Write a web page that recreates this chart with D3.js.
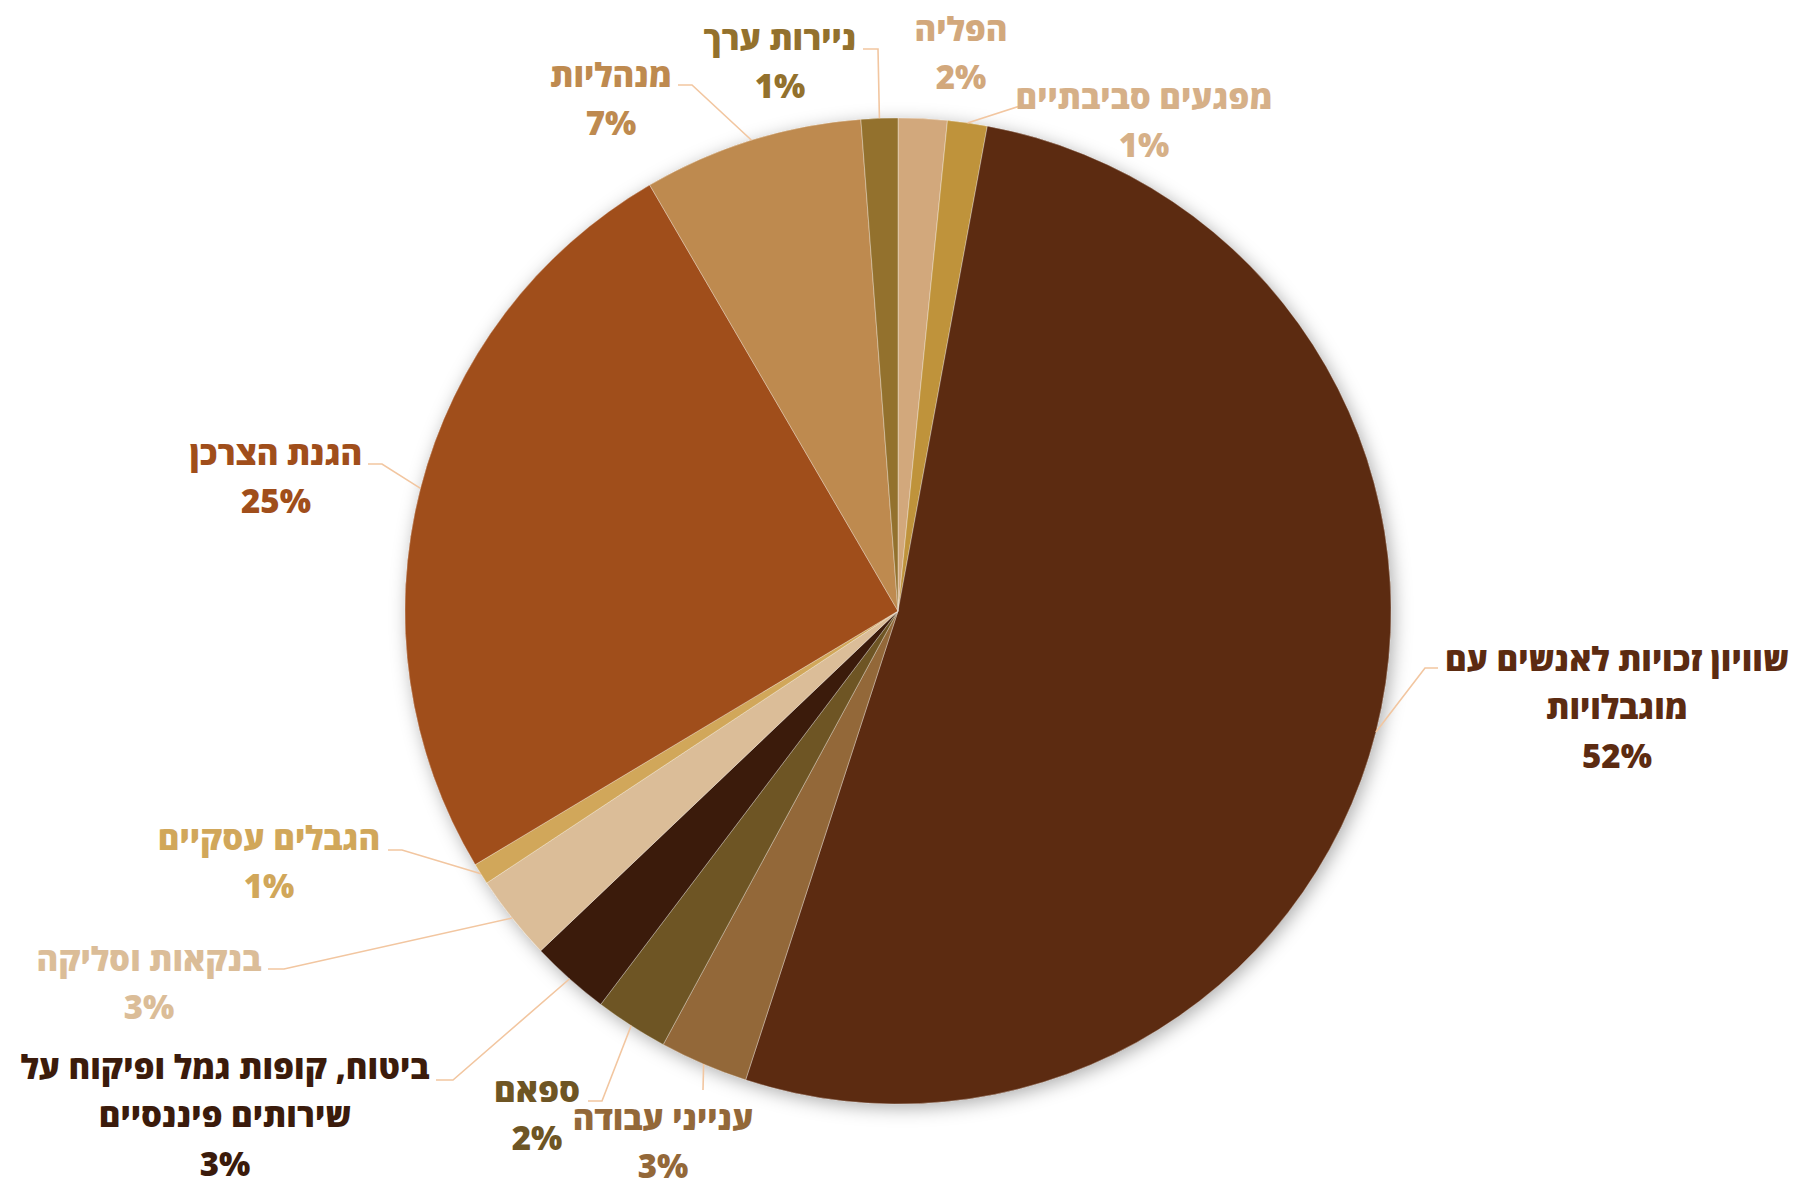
<!DOCTYPE html>
<html lang="he">
<head>
<meta charset="utf-8">
<script src="https://cdn.jsdelivr.net/npm/d3@7/dist/d3.min.js"></script>
<style>
  html, body { margin: 0; padding: 0; background: #ffffff; }
  svg { display: block; }
  text { font-family: "Open Sans", "Liberation Sans", "DejaVu Sans", sans-serif; font-weight: 800; }
</style>
</head>
<body>
<svg id="chart" width="1798" height="1188"></svg>
<script>
// ---- Data (clockwise from 12 o'clock) ----
const categories = [
  "הפליה",
  "מפגעים סביבתיים",
  "שוויון זכויות לאנשים עם מוגבלויות",
  "ענייני עבודה",
  "ספאם",
  "ביטוח, קופות גמל ופיקוח על שירותים פיננסיים",
  "בנקאות וסליקה",
  "הגבלים עסקיים",
  "הגנת הצרכן",
  "מנהליות",
  "ניירות ערך"
];
const values = [1.6, 1.3, 52.1, 2.9, 2.4, 2.6, 2.8, 0.7, 25.2, 7.2, 1.2];

// label line breaks
const labelLines = [
  ["הפליה"],
  ["מפגעים סביבתיים"],
  ["שוויון זכויות לאנשים עם", "מוגבלויות"],
  ["ענייני עבודה"],
  ["ספאם"],
  ["ביטוח, קופות גמל ופיקוח על", "שירותים פיננסיים"],
  ["בנקאות וסליקה"],
  ["הגבלים עסקיים"],
  ["הגנת הצרכן"],
  ["מנהליות"],
  ["ניירות ערך"]
];

// ---- Styles ----
const sliceColors = ["#d2a87c", "#bf933b", "#5c2b11", "#936839", "#6e5524", "#3b1b0b",
                     "#dbbd98", "#d1a75a", "#a04e1b", "#be8a4f", "#93712d"];
const textColors  = ["#d2a87c", "#d6b088", "#5c2b11", "#936839", "#6e5524", "#3b1b0b",
                     "#dbbd98", "#d1a75a", "#a04e1b", "#be8a4f", "#93712d"];

// ---- Layout (label anchor = center of first text line; leader elbow & end) ----
const labelLayout = [
  { x: 961,  y: 29,   elbow: null,        end: null },
  { x: 1144, y: 97,   elbow: [1020, 106], end: [1030, 106] },
  { x: 1617, y: 659,  elbow: [1425, 668], end: [1438, 668] },
  { x: 663,  y: 1118, elbow: [703, 1090], end: [703, 1090] },
  { x: 537,  y: 1090, elbow: [602, 1101], end: [588, 1101] },
  { x: 225,  y: 1067, elbow: [453, 1080], end: [436, 1080] },
  { x: 149,  y: 959,  elbow: [284, 969],  end: [268, 969] },
  { x: 269,  y: 838,  elbow: [402, 850],  end: [388, 850] },
  { x: 276,  y: 453,  elbow: [382, 464],  end: [368, 464] },
  { x: 611,  y: 75,   elbow: [692, 85],   end: [678, 85] },
  { x: 780,  y: 38,   elbow: [878, 49],   end: [863, 49] }
];

const W = 1798, H = 1188;
const cx = 898, cy = 611, R = 493;
const fontSize = 33, lineH = 48.5;

const svg = d3.select("#chart");

const defs = svg.append("defs");
const f = defs.append("filter").attr("id", "shadow")
  .attr("x", "-20%").attr("y", "-20%").attr("width", "140%").attr("height", "140%");
f.append("feDropShadow").attr("dx", 3).attr("dy", 4).attr("stdDeviation", 9)
  .attr("flood-color", "#000").attr("flood-opacity", 0.32);

const data = categories.map((c, i) => ({ name: c, value: values[i], i }));
const total = d3.sum(values);

const pie = d3.pie().value(d => d.value).sort(null).startAngle(0).endAngle(2 * Math.PI);
const arcs = pie(data);
const arc = d3.arc().innerRadius(0).outerRadius(R);

const g = svg.append("g").attr("transform", `translate(${cx},${cy})`);

g.append("g").attr("filter", "url(#shadow)")
  .selectAll("path").data(arcs).join("path")
  .attr("d", arc)
  .attr("fill", d => sliceColors[d.data.i]);

g.append("g").selectAll("path").data(arcs).join("path")
  .attr("d", arc)
  .attr("fill", d => sliceColors[d.data.i])
  .attr("stroke", "rgba(255,255,255,0.35)")
  .attr("stroke-width", 1);

// leader lines
const leaders = svg.append("g");
arcs.forEach(d => {
  const L = labelLayout[d.data.i];
  if (!L.elbow) return;
  const mid = (d.startAngle + d.endAngle) / 2;
  const sx = cx + R * Math.sin(mid), sy = cy - R * Math.cos(mid);
  leaders.append("polyline")
    .attr("points", [[sx, sy], L.elbow, L.end].map(p => p.join(",")).join(" "))
    .attr("fill", "none")
    .attr("stroke", "#f2c6a0")
    .attr("stroke-width", 1.6);
});

// labels
const labels = svg.append("g");
arcs.forEach(d => {
  const i = d.data.i, L = labelLayout[i];
  const pct = Math.round(d.data.value / total * 100) + "%";
  const lines = labelLines[i].concat([pct]);
  const t = labels.append("text")
    .attr("text-anchor", "middle")
    .attr("fill", textColors[i])
    .attr("font-size", fontSize);
  lines.forEach((ln, k) => {
    t.append("tspan")
      .attr("x", L.x)
      .attr("y", L.y + k * lineH)
      .attr("dy", "0.36em")
      .attr("direction", k < lines.length - 1 ? "rtl" : "ltr")
      .attr("unicode-bidi", "embed")
      .text(ln);
  });
});
</script>
</body>
</html>
